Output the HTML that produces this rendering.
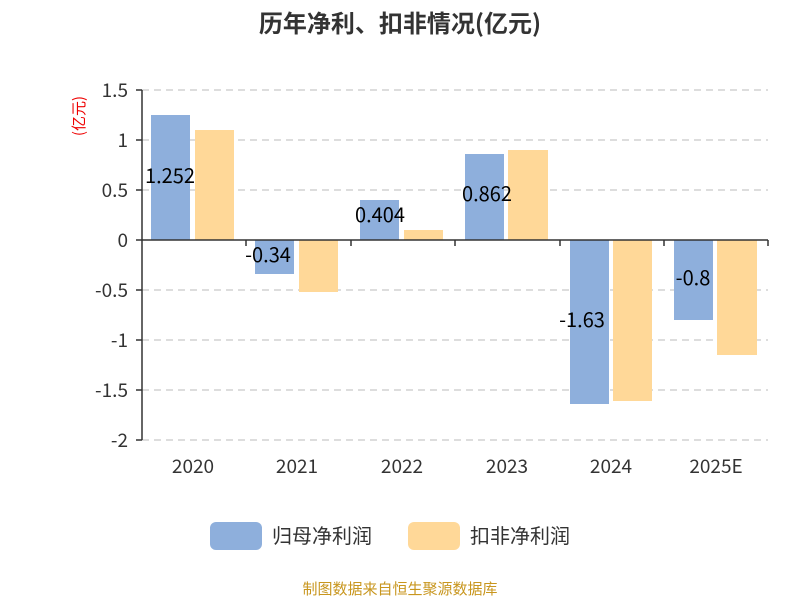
<!DOCTYPE html>
<html><head><meta charset="utf-8"><style>
body{margin:0;background:#fff;}
svg text{font-family:"Noto Sans CJK SC","Liberation Sans",sans-serif;}
</style></head><body>
<svg width="800" height="600" xmlns="http://www.w3.org/2000/svg">
<rect width="800" height="600" fill="#fff"/>
<text x="400" y="32" text-anchor="middle" font-size="24" font-weight="bold" fill="#333">历年净利、扣非情况(亿元)</text>
<g stroke="#bbb" stroke-dasharray="7,5" stroke-width="1">
<line x1="142" y1="90" x2="768" y2="90"/><line x1="142" y1="140" x2="768" y2="140"/>
<line x1="142" y1="190" x2="768" y2="190"/><line x1="142" y1="290" x2="768" y2="290"/>
<line x1="142" y1="340" x2="768" y2="340"/><line x1="142" y1="390" x2="768" y2="390"/>
<line x1="142" y1="440" x2="768" y2="440"/>
</g>
<g fill="#8eafdc">
<rect x="151" y="115" width="39" height="125"/>
<rect x="255" y="240" width="39" height="34"/>
<rect x="360" y="200" width="39" height="40"/>
<rect x="465" y="154" width="39" height="86"/>
<rect x="570" y="240" width="39" height="164"/>
<rect x="674" y="240" width="39" height="80"/>
</g>
<g fill="#ffd898">
<rect x="195" y="130" width="39" height="110"/>
<rect x="299" y="240" width="39" height="52"/>
<rect x="404" y="230" width="39" height="10"/>
<rect x="508" y="150" width="40" height="90"/>
<rect x="613" y="240" width="39" height="161"/>
<rect x="717" y="240" width="40" height="115"/>
</g>
<g stroke="#333" stroke-width="1.5">
<line x1="142" y1="90" x2="142" y2="440"/>
<line x1="142" y1="240" x2="768" y2="240"/>
<line x1="136" y1="90" x2="142" y2="90"/><line x1="136" y1="140" x2="142" y2="140"/>
<line x1="136" y1="190" x2="142" y2="190"/><line x1="136" y1="240" x2="142" y2="240"/>
<line x1="136" y1="290" x2="142" y2="290"/><line x1="136" y1="340" x2="142" y2="340"/>
<line x1="136" y1="390" x2="142" y2="390"/><line x1="136" y1="440" x2="142" y2="440"/>
<line x1="246" y1="240" x2="246" y2="246"/><line x1="351" y1="240" x2="351" y2="246"/>
<line x1="455" y1="240" x2="455" y2="246"/><line x1="560" y1="240" x2="560" y2="246"/>
<line x1="664" y1="240" x2="664" y2="246"/><line x1="768" y1="240" x2="768" y2="246"/>
</g>
<g font-size="19" fill="#333" text-anchor="end">
<text x="128" y="97">1.5</text><text x="128" y="147">1</text><text x="128" y="197">0.5</text>
<text x="128" y="247">0</text><text x="128" y="297">-0.5</text><text x="128" y="347">-1</text>
<text x="128" y="397">-1.5</text><text x="128" y="447">-2</text>
</g>
<text transform="translate(84,116) rotate(-90)" font-size="15" fill="#e00" text-anchor="middle">(亿元)</text>
<g font-size="19" fill="#333" text-anchor="middle">
<text x="193" y="473">2020</text><text x="297" y="473">2021</text><text x="402" y="473">2022</text>
<text x="507" y="473">2023</text><text x="611" y="473">2024</text><text x="716" y="473">2025E</text>
</g>
<g font-size="20" fill="#000" text-anchor="middle">
<text x="170" y="183">1.252</text><text x="268" y="262">-0.34</text><text x="380" y="222">0.404</text>
<text x="487" y="201">0.862</text><text x="582" y="327">-1.63</text><text x="693" y="285">-0.8</text>
</g>
<rect x="210" y="522" width="52" height="28" rx="6" fill="#8eafdc"/>
<text x="272" y="543" font-size="20" fill="#333">归母净利润</text>
<rect x="408" y="522" width="52" height="28" rx="6" fill="#ffd898"/>
<text x="470" y="543" font-size="20" fill="#333">扣非净利润</text>
<text x="400" y="594" text-anchor="middle" font-size="15" fill="#c8961e">制图数据来自恒生聚源数据库</text>
</svg>
</body></html>
